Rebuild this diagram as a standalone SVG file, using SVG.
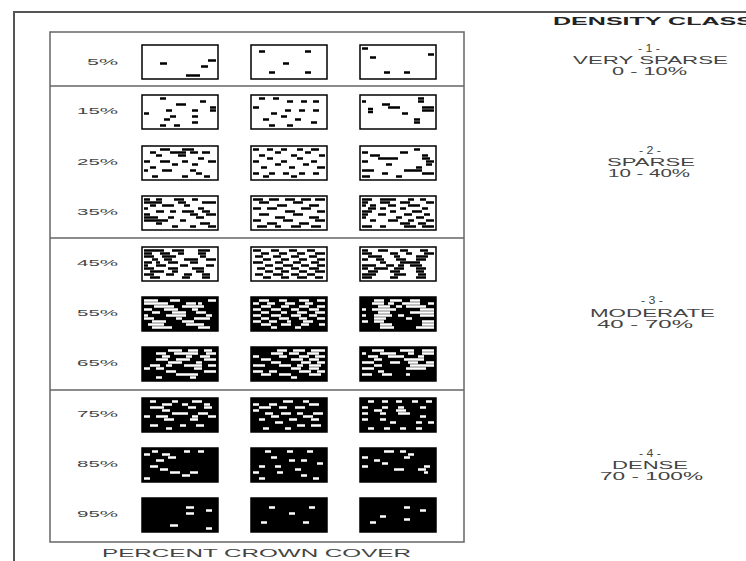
<svg xmlns="http://www.w3.org/2000/svg" width="746" height="561" viewBox="0 0 746 561">
<style>
.t{font-family:"Liberation Sans",Arial,sans-serif;fill:#444}
.lbl{font-size:9px}
.cls{font-size:11px}
.hd{font-size:11px;font-weight:bold;fill:#222}
.k{stroke:#000;stroke-width:2.7;fill:none}
.w{stroke:#fff;stroke-width:2.7;fill:none}
.fr{fill:none;stroke:#000;stroke-width:1.5}
.bk{fill:#000}
.ln{stroke:#666;stroke-width:1.5;fill:none}
.of{stroke:#555;stroke-width:2;fill:none}
</style>
<rect width="746" height="561" fill="#fff"/>
<g id="frame">
<path class="of" d="M14 561V12H746"/>
<rect class="ln" x="50" y="32" width="414" height="510"/>
<path class="ln" d="M50 86H464M50 238H464M50 390H464"/>
</g>
<g id="labels" class="t lbl">
<text x="87" y="65" textLength="31" lengthAdjust="spacingAndGlyphs">5%</text>
<text x="77" y="114" textLength="41" lengthAdjust="spacingAndGlyphs">15%</text>
<text x="77" y="165" textLength="41" lengthAdjust="spacingAndGlyphs">25%</text>
<text x="77" y="215" textLength="41" lengthAdjust="spacingAndGlyphs">35%</text>
<text x="77" y="266" textLength="41" lengthAdjust="spacingAndGlyphs">45%</text>
<text x="77" y="316" textLength="41" lengthAdjust="spacingAndGlyphs">55%</text>
<text x="77" y="366" textLength="41" lengthAdjust="spacingAndGlyphs">65%</text>
<text x="77" y="417" textLength="41" lengthAdjust="spacingAndGlyphs">75%</text>
<text x="77" y="467" textLength="41" lengthAdjust="spacingAndGlyphs">85%</text>
<text x="77" y="517" textLength="41" lengthAdjust="spacingAndGlyphs">95%</text>
</g>
<g id="cells">
<g id="c05a" transform="translate(142,45)"><path class="k" d="M18 18.5h7M66 15.5h8M59 21.5h7M44 30.5h14"/><rect class="fr" width="76" height="34"/></g>
<g id="c05b" transform="translate(251,45)"><path class="k" d="M8 6.5h6M54 6.5h6M32 18.5h6M18 27.5h6M54 27.5h6"/><rect class="fr" width="76" height="34"/></g>
<g id="c05c" transform="translate(360,45)"><path class="k" d="M2 3.5h6M10 12.5h6M68 9.5h6M24 27.5h6M44 27.5h6"/><rect class="fr" width="76" height="34"/></g>

<g id="c15a" transform="translate(142,95)"><path class="k" d="M18 3.5h6M34 9.5h10M58 6.5h6M2 18.5h5M68 12.5h6M68 15.5h6M24 15.5h6M28 21.5h6M22 24.5h6M50 15.5h6M50 21.5h6M50 27.5h6M18 30.5h6M32 30.5h6"/><rect class="fr" width="76" height="34"/></g>
<g id="c15b" transform="translate(251,95)"><path class="k" d="M8 3.5h6M22 3.5h6M36 6.5h6M50 6.5h6M62 6.5h6M2 12.5h6M20 18.5h6M34 15.5h6M48 15.5h6M62 15.5h6M12 24.5h6M30 21.5h6M44 24.5h6M60 27.5h6M18 30.5h6M36 30.5h6"/><rect class="fr" width="76" height="34"/></g>
<g id="c15c" transform="translate(360,95)"><path class="k" d="M8 14h5M8 17h5M22 9.5h8M28 12.5h12M42 18.5h6M58 3.5h6M58 6.5h6M62 12.5h12M62 15.5h12M54 24.5h6M54 27.5h6M2 6.5h4"/><rect class="fr" width="76" height="34"/></g>

<g id="c25a" transform="translate(142,146)"><path class="k" d="M18 3.5h10M40 3.5h12M8 6.5h6M28 6.5h16M48 6.5h8M60 6.5h8M14 9.5h6M36 9.5h8M2 15.5h6M18 15.5h10M40 15.5h6M56 12.5h6M66 15.5h8M30 18.5h6M50 18.5h6M8 21.5h6M20 24.5h10M48 24.5h6M54 27.5h6M10 30.5h6M40 30.5h6M62 30.5h6M2 24.5h4"/><rect class="fr" width="76" height="34"/></g>
<g id="c25b" transform="translate(251,146)"><path class="k" d="M2 3.5h6M16 3.5h6M30 3.5h6M46 3.5h6M60 3.5h8M8 9.5h6M24 6.5h6M40 9.5h6M54 6.5h6M68 9.5h6M2 15.5h6M16 12.5h6M30 15.5h6M46 12.5h6M60 15.5h6M10 21.5h6M24 18.5h6M38 21.5h6M52 18.5h6M66 21.5h8M2 27.5h6M18 27.5h6M32 27.5h6M48 27.5h6M62 27.5h6M12 30.5h6M40 30.5h6"/><rect class="fr" width="76" height="34"/></g>
<g id="c25c" transform="translate(360,146)"><path class="k" d="M2 6.5h6M10 9.5h10M18 12.5h20M40 6.5h8M54 3.5h6M62 9.5h6M62 12.5h8M66 15.5h8M66 18.5h6M26 18.5h6M2 24.5h12M22 27.5h6M44 24.5h18M56 21.5h6M62 27.5h12M2 30.5h8M36 30.5h6M2 15.5h6"/><rect class="fr" width="76" height="34"/></g>

<g id="c35a" transform="translate(142,196)"><path class="k" d="M2 3.5h6M14 3.5h6M32 3.5h10M50 3.5h6M2 6.5h18M36 6.5h8M60 6.5h14M8 9.5h6M20 9.5h12M42 9.5h6M56 12.5h6M2 12.5h4M14 15.5h8M28 15.5h6M40 15.5h12M60 15.5h8M2 18.5h6M48 18.5h8M64 18.5h10M2 21.5h14M26 21.5h6M38 24.5h6M54 21.5h8M2 24.5h24M58 27.5h10M14 27.5h6M30 30.5h6M48 30.5h6M66 30.5h8"/><rect class="fr" width="76" height="34"/></g>
<g id="c35b" transform="translate(251,196)"><path class="k" d="M2 3.5h10M18 3.5h10M34 3.5h10M50 3.5h10M64 3.5h10M8 6.5h10M26 9.5h10M42 6.5h10M58 9.5h10M2 12.5h8M16 12.5h10M34 15.5h10M50 12.5h10M66 15.5h8M8 18.5h10M24 21.5h10M42 18.5h10M58 21.5h10M2 24.5h8M16 27.5h10M32 24.5h10M48 27.5h10M64 24.5h10M6 30.5h10M24 30.5h6M40 30.5h10M60 30.5h10"/><rect class="fr" width="76" height="34"/></g>
<g id="c35c" transform="translate(360,196)"><path class="k" d="M2 3.5h10M20 3.5h16M48 3.5h6M60 3.5h6M2 6.5h6M20 6.5h10M40 6.5h10M66 6.5h8M2 9.5h4M10 9.5h6M28 9.5h8M48 9.5h12M8 12.5h8M20 12.5h6M40 12.5h6M62 12.5h6M2 15.5h10M30 15.5h6M52 15.5h10M2 18.5h6M18 18.5h8M44 18.5h8M64 18.5h6M2 21.5h4M36 21.5h6M56 21.5h8M10 24.5h6M28 24.5h10M48 24.5h6M66 24.5h8M40 27.5h10M58 27.5h8M2 30.5h10M20 30.5h6M44 30.5h12M62 30.5h12"/><rect class="fr" width="76" height="34"/></g>

<g id="c45a" transform="translate(142,247)"><path class="k" d="M2 3.5h20M30 3.5h12M56 3.5h12M2 6.5h8M18 6.5h10M36 6.5h6M56 6.5h8M2 9.5h10M20 9.5h14M58 9.5h6M10 12.5h6M22 12.5h8M42 12.5h14M64 12.5h10M2 15.5h8M14 15.5h4M26 15.5h10M48 15.5h8M2 18.5h4M14 18.5h10M38 18.5h8M64 18.5h8M2 21.5h10M26 21.5h10M50 21.5h12M8 24.5h14M30 24.5h6M54 24.5h8M2 27.5h10M24 27.5h8M42 27.5h8M60 27.5h8M8 30.5h10M40 30.5h8M60 30.5h8"/><rect class="fr" width="76" height="34"/></g>
<g id="c45b" transform="translate(251,247)"><path class="k" d="M2 3.5h8M20 3.5h8M38 3.5h8M56 3.5h8M10 6.5h8M28 6.5h8M46 6.5h8M64 6.5h10M4 9.5h8M22 9.5h8M40 9.5h8M58 9.5h8M12 12.5h8M30 12.5h8M48 12.5h8M66 12.5h8M2 15.5h10M24 15.5h8M42 15.5h8M60 15.5h8M14 18.5h8M32 18.5h10M50 18.5h8M66 18.5h8M6 21.5h8M24 21.5h8M40 21.5h8M58 21.5h10M14 24.5h8M30 24.5h8M48 24.5h8M64 24.5h10M4 27.5h8M22 27.5h10M40 27.5h8M56 27.5h8M12 30.5h8M30 30.5h8M46 30.5h10M64 30.5h8"/><rect class="fr" width="76" height="34"/></g>
<g id="c45c" transform="translate(360,247)"><path class="k" d="M2 3.5h6M18 3.5h10M40 3.5h8M60 3.5h8M2 6.5h10M30 6.5h8M46 6.5h6M64 6.5h10M8 9.5h14M34 9.5h6M56 9.5h12M2 12.5h6M16 12.5h8M36 12.5h10M56 12.5h10M20 15.5h6M40 15.5h20M2 18.5h14M26 18.5h8M38 18.5h6M50 18.5h12M2 21.5h6M14 21.5h14M34 21.5h10M56 21.5h10M8 24.5h10M30 24.5h10M56 24.5h8M2 27.5h14M34 27.5h12M58 27.5h8M2 30.5h10M30 30.5h8M56 30.5h10"/><rect class="fr" width="76" height="34"/></g>

<g id="c55a" transform="translate(142,297)"><rect class="bk" width="76" height="34"/><path class="w" d="M2 3.5h14M28 3.5h10M66 3.5h8M2 6.5h24M44 6.5h10M56 6.5h4M12 9.5h20M40 9.5h22M2 12.5h8M22 12.5h14M50 12.5h6M10 15.5h8M30 15.5h14M54 15.5h10M2 18.5h4M24 18.5h20M64 18.5h6M2 21.5h10M34 21.5h6M52 21.5h16M10 24.5h14M40 24.5h12M6 27.5h16M44 27.5h18M10 30.5h20M56 30.5h12"/><rect class="fr" width="76" height="34"/></g>
<g id="c55b" transform="translate(251,297)"><rect class="bk" width="76" height="34"/><path class="w" d="M8 3.5h10M28 3.5h8M48 3.5h10M66 3.5h8M2 6.5h6M16 6.5h8M34 6.5h10M54 6.5h8M10 9.5h10M30 9.5h8M48 9.5h10M66 9.5h8M2 12.5h8M20 12.5h10M40 12.5h8M58 12.5h10M10 15.5h8M30 15.5h6M46 15.5h10M64 15.5h10M2 18.5h8M20 18.5h10M40 18.5h10M58 18.5h8M10 21.5h8M28 21.5h10M48 21.5h8M66 21.5h8M2 24.5h8M18 24.5h8M36 24.5h4M52 24.5h10M10 27.5h10M30 27.5h10M50 27.5h8M68 27.5h6M20 30.5h6M44 30.5h6"/><rect class="fr" width="76" height="34"/></g>
<g id="c55c" transform="translate(360,297)"><rect class="bk" width="76" height="34"/><path class="w" d="M14 3.5h10M30 3.5h12M50 3.5h10M12 6.5h12M28 6.5h6M42 6.5h18M68 6.5h6M18 9.5h12M36 9.5h6M46 9.5h20M2 12.5h4M12 12.5h24M60 12.5h14M18 15.5h12M50 15.5h24M2 18.5h4M14 18.5h18M38 18.5h6M60 18.5h14M14 21.5h12M46 21.5h6M2 24.5h6M14 24.5h10M62 24.5h12M20 27.5h12M62 27.5h12M20 30.5h14M56 30.5h18"/><rect class="fr" width="76" height="34"/></g>

<g id="c65a" transform="translate(142,347)"><rect class="bk" width="76" height="34"/><path class="w" d="M26 3.5h14M46 3.5h10M62 3.5h8M14 6.5h10M32 6.5h24M64 6.5h10M20 9.5h8M44 9.5h6M58 9.5h10M14 12.5h12M34 12.5h14M62 12.5h12M26 15.5h14M54 15.5h6M8 18.5h10M24 18.5h6M42 18.5h18M66 18.5h8M2 21.5h6M14 21.5h8M52 21.5h8M24 24.5h10M62 24.5h12M34 27.5h22M14 30.5h6M48 30.5h6"/><rect class="fr" width="76" height="34"/></g>
<g id="c65b" transform="translate(251,347)"><rect class="bk" width="76" height="34"/><path class="w" d="M26 3.5h10M42 3.5h12M60 3.5h14M20 6.5h12M38 6.5h10M56 6.5h12M2 9.5h6M28 9.5h8M48 9.5h10M64 9.5h10M10 12.5h10M40 12.5h12M58 12.5h10M20 15.5h10M50 15.5h10M66 15.5h8M2 18.5h12M28 18.5h12M46 18.5h6M58 18.5h12M40 21.5h10M58 21.5h10M2 24.5h10M18 24.5h8M48 24.5h12M66 24.5h8M10 27.5h10M28 27.5h12M58 27.5h12M40 30.5h6"/><rect class="fr" width="76" height="34"/></g>
<g id="c65c" transform="translate(360,347)"><rect class="bk" width="76" height="34"/><path class="w" d="M12 3.5h12M40 3.5h14M62 3.5h12M2 6.5h4M20 6.5h16M48 6.5h6M62 6.5h12M8 9.5h10M28 9.5h16M58 9.5h6M14 12.5h8M44 12.5h20M2 15.5h12M30 15.5h10M48 15.5h10M66 15.5h8M14 18.5h8M50 18.5h24M2 21.5h12M46 21.5h20M18 24.5h6M2 27.5h10M22 27.5h10M46 27.5h4"/><rect class="fr" width="76" height="34"/></g>

<g id="c75a" transform="translate(142,398)"><rect class="bk" width="76" height="34"/><path class="w" d="M8 3.5h6M30 3.5h6M50 3.5h10M20 6.5h10M40 6.5h6M62 6.5h6M8 9.5h14M46 9.5h8M62 9.5h8M20 12.5h8M30 15.5h16M56 15.5h10M2 18.5h6M14 18.5h12M50 18.5h6M66 18.5h8M22 21.5h10M48 21.5h8M8 27.5h8M38 27.5h6M54 27.5h8M24 30.5h6"/><rect class="fr" width="76" height="34"/></g>
<g id="c75b" transform="translate(251,398)"><rect class="bk" width="76" height="34"/><path class="w" d="M32 3.5h10M52 3.5h6M2 6.5h6M18 6.5h8M58 6.5h10M8 9.5h12M28 9.5h8M44 9.5h10M2 12.5h6M14 15.5h8M30 15.5h10M46 15.5h6M62 15.5h10M20 18.5h8M52 18.5h10M8 21.5h6M38 21.5h8M60 21.5h8M24 24.5h8M46 27.5h8M60 27.5h10M12 30.5h6M34 30.5h6"/><rect class="fr" width="76" height="34"/></g>
<g id="c75c" transform="translate(360,398)"><rect class="bk" width="76" height="34"/><path class="w" d="M8 3.5h6M22 3.5h6M36 3.5h6M52 3.5h6M66 3.5h6M2 9.5h6M22 9.5h6M38 9.5h6M60 9.5h6M14 12.5h8M36 12.5h10M2 15.5h6M20 15.5h6M38 15.5h12M60 18.5h6M2 21.5h6M20 21.5h6M30 24.5h6M56 24.5h6M68 24.5h6M8 30.5h6M24 30.5h6M40 30.5h6M56 30.5h6"/><rect class="fr" width="76" height="34"/></g>

<g id="c85a" transform="translate(142,448)"><rect class="bk" width="76" height="34"/><path class="w" d="M2 6.5h6M10 3.5h6M20 6.5h8M26 9.5h8M14 12.5h8M8 18.5h8M18 21.5h8M28 24.5h10M40 27.5h8M2 30.5h6M48 24.5h8M42 3.5h6M56 3.5h6"/><rect class="fr" width="76" height="34"/></g>
<g id="c85b" transform="translate(251,448)"><rect class="bk" width="76" height="34"/><path class="w" d="M14 3.5h6M36 3.5h6M56 3.5h6M20 9.5h6M38 12.5h6M50 12.5h6M66 15.5h6M8 18.5h6M24 18.5h6M44 21.5h6M2 24.5h6M26 24.5h6M50 27.5h6M8 30.5h6M62 30.5h6"/><rect class="fr" width="76" height="34"/></g>
<g id="c85c" transform="translate(360,448)"><rect class="bk" width="76" height="34"/><path class="w" d="M2 9.5h6M14 12.5h6M22 15.5h6M24 3.5h10M40 3.5h6M48 6.5h6M2 18.5h6M34 21.5h10M58 21.5h8M64 18.5h6M64 24.5h4M44 9.5h6"/><rect class="fr" width="76" height="34"/></g>

<g id="c95a" transform="translate(142,498)"><rect class="bk" width="76" height="34"/><path class="w" d="M44 9.5h8M44 15.5h8M64 12.5h6M28 27.5h8M64 30.5h6"/><rect class="fr" width="76" height="34"/></g>
<g id="c95b" transform="translate(251,498)"><rect class="bk" width="76" height="34"/><path class="w" d="M18 9.5h6M58 9.5h6M38 15.5h6M10 24.5h6M52 24.5h6"/><rect class="fr" width="76" height="34"/></g>
<g id="c95c" transform="translate(360,498)"><rect class="bk" width="76" height="34"/><path class="w" d="M44 9.5h6M60 12.5h6M20 18.5h6M10 24.5h6M44 21.5h6"/><rect class="fr" width="76" height="34"/></g>
</g>
<g id="classes" class="t cls">
<text class="t hd" x="553" y="25" textLength="200" lengthAdjust="spacingAndGlyphs">DENSITY CLASS</text>
<g id="class1">
<text x="638" y="52" textLength="22" lengthAdjust="spacingAndGlyphs">- 1 -</text>
<text x="573" y="64" textLength="155" lengthAdjust="spacingAndGlyphs">VERY SPARSE</text>
<text x="612" y="75" textLength="75" lengthAdjust="spacingAndGlyphs">0 - 10%</text>
</g>
<g id="class2">
<text x="639" y="154" textLength="22" lengthAdjust="spacingAndGlyphs">- 2 -</text>
<text x="607" y="166" textLength="88" lengthAdjust="spacingAndGlyphs">SPARSE</text>
<text x="608" y="177" textLength="82" lengthAdjust="spacingAndGlyphs">10 - 40%</text>
</g>
<g id="class3">
<text x="641" y="304" textLength="22" lengthAdjust="spacingAndGlyphs">- 3 -</text>
<text x="590" y="317" textLength="125" lengthAdjust="spacingAndGlyphs">MODERATE</text>
<text x="597" y="328" textLength="96" lengthAdjust="spacingAndGlyphs">40 - 70%</text>
</g>
<g id="class4">
<text x="639" y="457" textLength="22" lengthAdjust="spacingAndGlyphs">- 4 -</text>
<text x="612" y="469" textLength="76" lengthAdjust="spacingAndGlyphs">DENSE</text>
<text x="600" y="480" textLength="103" lengthAdjust="spacingAndGlyphs">70 - 100%</text>
</g>
</g>
<text id="axis" class="t" font-size="10" x="102" y="557" textLength="309" lengthAdjust="spacingAndGlyphs">PERCENT CROWN COVER</text>
</svg>
